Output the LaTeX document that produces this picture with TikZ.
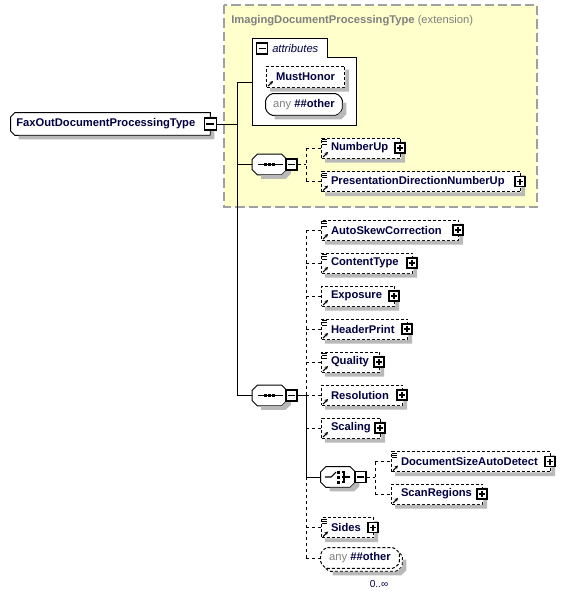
\documentclass[tikz,border=0pt]{standalone}
\usepackage{fontspec}
\setmainfont{Liberation Sans}
\usetikzlibrary{arrows.meta,calc}
\newdimen\upx \upx=0.75pt
\definecolor{txt}{RGB}{0,0,64}
\definecolor{extfill}{RGB}{255,255,204}
\definecolor{extline}{RGB}{160,160,160}
\definecolor{greytext}{RGB}{128,128,128}
\definecolor{shadecol}{RGB}{185,185,185}
\newcommand\ef{\fontsize{8.4pt}{10pt}\selectfont\bfseries}
\newcommand\rf{\fontsize{8.4pt}{10pt}\selectfont\mdseries}
\newcommand\itf{\fontsize{8.4pt}{10pt}\selectfont\itshape}
\tikzset{
  shadefill/.style={fill=shadecol, draw=none},
  elembox/.style={draw, dash pattern=on 2.25pt off 1.5pt, line width=0.75pt, fill=white,
    minimum height=20\upx, inner xsep=0pt, inner ysep=0pt, align=left, font=\ef, text=txt},
  minusbox/.style={draw, fill=white, line width=0.9pt, minimum size=10\upx, inner sep=0pt,
    path picture={\draw[line width=0.8pt] ([xshift=2\upx]path picture bounding box.west) -- ([xshift=-2\upx]path picture bounding box.east);}},
  plusbox/.style={draw, fill=white, line width=0.9pt, minimum size=10\upx, inner sep=0pt,
    path picture={\draw[line width=0.8pt] ([xshift=2\upx]path picture bounding box.west) -- ([xshift=-2\upx]path picture bounding box.east)
      ([yshift=-2\upx]path picture bounding box.north) -- ([yshift=2\upx]path picture bounding box.south);}},
  hold/.style={rectangle, inner sep=0pt, draw=none},
  conn/.style={line width=0.75pt},
  dconn/.style={line width=0.75pt, dash pattern=on 2.25pt off 2.25pt},
  dsh/.style={dash pattern=on 2.25pt off 1.5pt},
  extbox/.style={fill=extfill, draw=extline, line width=1.1pt, dash pattern=on 7pt off 3pt},
  icon/.style={line width=0.8pt},
}
% octagon path around a rectangular node: style, node, left chamfer, right chamfer, dx, dy
\newcommand\octfill[6]{%
  \path[#1] ($(#2.north west)+(#3+#5,#6)$) -- ($(#2.north east)+(-#4+#5,#6)$)
    -- ($(#2.north east)+(#5,#4+#6)$) -- ($(#2.south east)+(#5,-#4+#6)$)
    -- ($(#2.south east)+(-#4+#5,#6)$) -- ($(#2.south west)+(#3+#5,#6)$)
    -- ($(#2.south west)+(#5,-#3+#6)$) -- ($(#2.north west)+(#5,#3+#6)$) -- cycle;}
% shadow strips drawn after a box: node, left chamfer, right chamfer
\newcommand\shadestrips[3]{%
  \path[shadefill] ($(#1.south west)+(4+#2,0.4)$) -- ($(#1.south east)+(-#3,0.4)$)
    -- ($(#1.south east)+(0.4,-#3)$) -- ($(#1.north east)+(0.4,4+#3)$)
    -- ($(#1.north east)+(4,4+#3)$) -- ($(#1.south east)+(4,-#3+4)$)
    -- ($(#1.south east)+(-#3+4,4)$) -- ($(#1.south west)+(4+#2,4)$) -- cycle;}
\newcommand\oct[4][]{%
  \octfill{draw, line width=0.75pt, fill=white,#1}{#2}{#3}{#4}{0}{0}%
  \shadestrips{#2}{#3}{#4}}
\newcommand\refarrow[1]{%
  \draw[icon, -{Stealth[length=2.6pt,width=2.6pt]}] ($(#1.south west)+(2,-1.5)$) -- ++(5,-5);}
\newcommand\docicon[1]{%
  \draw[line width=0.6pt] ($(#1.north west)+(1,2)$) -- ++(5,0)
    ($(#1.north west)+(1,4.3)$) -- ++(5,0) ($(#1.north west)+(1,6.6)$) -- ++(5,0);}
% name, left x, centre y, width, label, doc icon
\newcommand\elem[6]{%
  \node[elembox, text width=#4\upx, anchor=west] (#1) at (#2,#3) {\hspace*{9.5\upx}#5};
  \shadestrips{#1}{0}{0}%
  \node[plusbox] (#1p) at ($(#1.east)+(-1,0)$) {};
  \refarrow{#1}%
  \ifnum#6=1 \docicon{#1}\fi}
\newcommand\seqicon[1]{%
  \draw[icon] ($(#1.center)+(-12,0)$) -- ($(#1.center)+(13,0)$);
  \foreach \d in {-4,0,4} \fill ($(#1.center)+(\d,0)+(-1.5,1.5)$) rectangle ++(3,-3);}
\begin{document}
\begin{tikzpicture}[x=0.75pt,y=-0.75pt]
\useasboundingbox (0,0) rectangle (579,596);
\fill[white] (0,0) rectangle (579,596);
\draw[extbox] (224,5) rectangle (537,207);
\node[anchor=base west, inner sep=0pt, font=\ef, text=greytext] (title) at (231,23)
  {ImagingDocumentProcessingType {\rf (extension)}};
% attributes
\draw[line width=0.75pt, fill=white] (252,38) -- (327,38) -- (327,57) -- (356,57) -- (356,125) -- (252,125) -- cycle;
\node[minusbox, minimum size=11\upx] (attrm) at (262,48.5) {};
\node[anchor=base west, inner sep=0pt, font=\itf, text=txt] (attrt) at (272,52) {attributes};
\coordinate (attr) at (252,82);
\node[elembox, text width=78\upx, minimum height=21\upx, anchor=west] (mh) at (266,76.5) {\hspace*{9.5\upx}MustHonor};
\shadestrips{mh}{0}{0}
\refarrow{mh}
\node[hold, minimum width=76\upx, minimum height=21\upx] (aany) at (304,104.5) {};
\oct[rounded corners=1.2pt]{aany}{5}{5}
\node[inner sep=0pt] (aanyt) at (aany.center) {\rf\color{greytext}any \ef\color{txt}\#\#other};
% main
\node[hold, minimum width=199\upx, minimum height=22\upx] (main) at (110.5,124) {};
\oct{main}{4}{0}
\node[anchor=west, inner sep=0pt, font=\ef, text=txt] (maint) at (16,124) {FaxOutDocumentProcessingType};
\node[minusbox, minimum size=12\upx] (mainm) at (main.east) {};
\coordinate (jA) at (237,82);
\coordinate (jC) at (237,395.5);
% sequence 1
\node[hold, minimum width=34\upx, minimum height=20\upx] (seq1) at (269.5,164.5) {};
\oct{seq1}{5}{5}
\node[minusbox, minimum size=11\upx] (seq1m) at (291.5,164.5) {};
\seqicon{seq1}
% sequence 2
\node[hold, minimum width=34\upx, minimum height=20\upx] (seq2) at (269.5,395.5) {};
\oct{seq2}{5}{5}
\node[minusbox, minimum size=11\upx] (seq2m) at (291.5,395.5) {};
\seqicon{seq2}
% connectors main
\draw[conn] (mainm.east) -- (mainm.east -| jA);
\draw[conn] (jA) -- (jC);
\draw[conn] (jA) -- (attr);
\draw[conn] (seq1.west -| jA) -- (seq1.west);
\draw[conn] (jC) -- (seq2.west);
% seq1 children
\elem{nu}{321}{148}{79}{NumberUp}{1}
\elem{pdnu}{321}{181.5}{199}{PresentationDirectionNumberUp}{1}
\coordinate (s1v) at (306,164.5);
\draw[dconn] (seq1m.east) -- (s1v);
\draw[dconn] (nu.west -| s1v) -- (pdnu.west -| s1v);
\draw[dconn] (nu.west -| s1v) -- (nu.west);
\draw[dconn] (pdnu.west -| s1v) -- (pdnu.west);
% seq2 children
\elem{asc}{321}{230}{137}{AutoSkewCorrection}{1}
\elem{ct}{321}{263}{91}{ContentType}{1}
\elem{expo}{321}{296}{73}{Exposure}{0}
\elem{hp}{321}{329}{86}{HeaderPrint}{1}
\elem{qual}{321}{362}{58}{Quality}{1}
\elem{res}{321}{395}{81}{Resolution}{0}
\elem{scal}{321}{428}{59}{Scaling}{0}
\elem{sides}{321}{527.5}{52}{Sides}{1}
% choice
\node[hold, minimum width=34\upx, minimum height=20\upx] (ch) at (338,477) {};
\oct{ch}{5}{5}
\node[minusbox, minimum size=11\upx] (chm) at (360.5,477) {};
\begin{scope}[shift={(ch.center)}]
  \draw[icon] (-13,0) -- (-7,0) -- (-2,-5);
  \foreach \d in {-5,0,5} \fill (-1,\d+1.5) rectangle ++(3,-3);
  \draw[icon] (4,-5) -- (6,-5) -- (6,5) -- (4,5) (4,0) -- (12,0);
\end{scope}
\elem{dsad}{391}{461.5}{159}{DocumentSizeAutoDetect}{1}
\elem{sr}{391}{494}{91}{ScanRegions}{0}
\coordinate (cv) at (375,477);
\draw[dconn] (chm.east) -- (cv);
\draw[dconn] (dsad.west -| cv) -- (sr.west -| cv);
\draw[dconn] (dsad.west -| cv) -- (dsad.west);
\draw[dconn] (sr.west -| cv) -- (sr.west);
% any (bottom), repeated 0..unbounded
\node[hold, minimum width=78\upx, minimum height=20\upx] (anyb) at (360,558) {};
\octfill{draw, dsh, line width=0.75pt, fill=white, rounded corners=1.2pt}{anyb}{5}{5}{3}{3}
\octfill{draw, dsh, line width=0.75pt, fill=white, rounded corners=1.2pt}{anyb}{5}{5}{0}{0}
\node[hold, minimum width=78\upx, minimum height=20\upx] (anyb2) at (363,561) {};
\shadestrips{anyb2}{5}{5}
\node[inner sep=0pt] (anybt) at (anyb.center) {\rf\color{greytext}any \ef\color{txt}\#\#other};
\node[inner sep=0pt, font=\fontsize{7.6pt}{9pt}\selectfont, text=txt] (mult) at (379,584) {0..∞};
% seq2 connectors
\coordinate (s2v) at (306,395.5);
\draw[conn] (seq2m.east) -- (s2v);
\draw[dconn] (asc.west -| s2v) -- (s2v);
\draw[conn] (s2v) -- (ch.west -| s2v);
\draw[dconn] (ch.west -| s2v) -- (anyb.west -| s2v);
\foreach \n in {asc,ct,expo,hp,qual,res,scal,sides,anyb}
  \draw[dconn] (\n.west -| s2v) -- (\n.west);
\draw[conn] (ch.west -| s2v) -- (ch.west);
\end{tikzpicture}
\end{document}
